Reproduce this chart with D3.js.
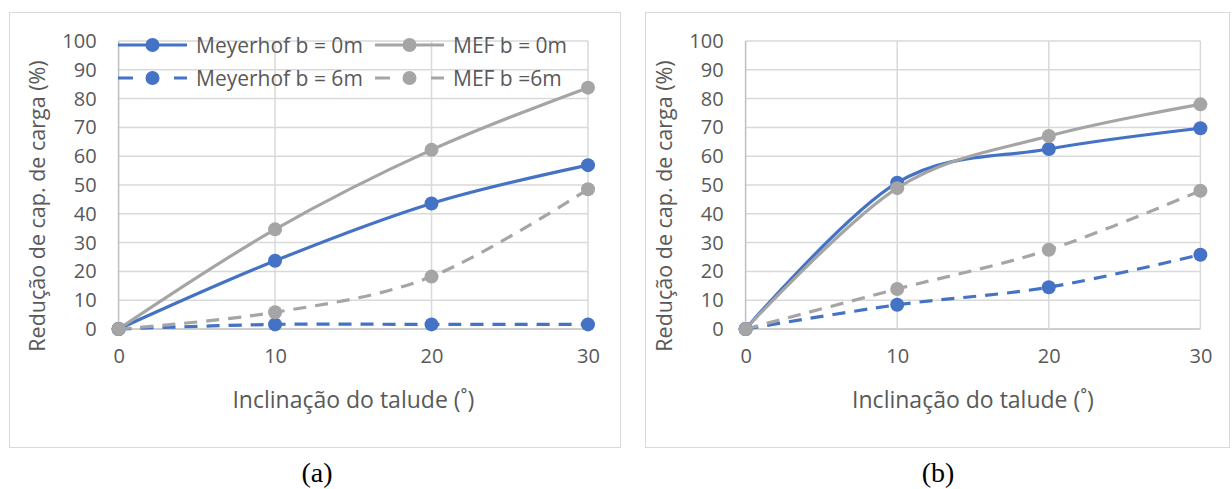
<!DOCTYPE html>
<html>
	<head>
		<meta charset="utf-8">
		<title>Redução de capacidade de carga</title>
		<script src="https://d3js.org/d3.v7.min.js" charset="utf-8"></script>
		<style>
			body {
				margin: 0;
				background: white;
				font-family: "Open Sans", sans-serif;
			}
			.tick text, .ttl {
				fill: #595959;
			}
		</style>
	</head>
	<body>
		<script>
		// data
		var angles = [0, 10, 20, 30];
		var yTicks = [0, 10, 20, 30, 40, 50, 60, 70, 80, 90, 100];
		var seriesNames = ["Meyerhof b = 0m", "MEF b = 0m", "Meyerhof b = 6m", "MEF b =6m"];

		// panel (a)
		var aMeyerhof0 = [0, 23.7, 43.6, 56.9];
		var aMef0 = [0, 34.6, 62.2, 83.8];
		var aMeyerhof6 = [0, 1.6, 1.6, 1.6];
		var aMef6 = [0, 5.8, 18.2, 48.5];

		// panel (b)
		var bMeyerhof0 = [0, 50.8, 62.5, 69.7];
		var bMef0 = [0, 48.9, 67.0, 78.0];
		var bMeyerhof6 = [0, 8.4, 14.5, 25.8];
		var bMef6 = [0, 13.9, 27.5, 48.0];

		var blue = "#4472C4";
		var gray = "#A5A5A5";
		var styles = [
			{color: blue, dash: null},
			{color: gray, dash: null},
			{color: blue, dash: "13,9"},
			{color: gray, dash: "13,9"}
		];

		var width = 1232;
		var height = 489;

		var svg = d3.select("body")
			.append("svg")
			.attr("width", width)
			.attr("height", height);

		var panels = [
			{label: "(a)", data: [aMeyerhof0, aMef0, aMeyerhof6, aMef6], box: [9, 12, 620, 447], x0: 118.6, x1: 588, legend: true, labelX: 317},
			{label: "(b)", data: [bMeyerhof0, bMef0, bMeyerhof6, bMef6], box: [645, 12, 1229, 447], x0: 745.6, x1: 1200.4, legend: false, labelX: 938}
		];

		var yTop = 41;
		var yBottom = 329;

		panels.forEach(function(p) {
			var g = svg.append("g");

			// chart area border
			g.append("rect")
				.attr("x", p.box[0] + 0.5)
				.attr("y", p.box[1] + 0.5)
				.attr("width", p.box[2] - p.box[0])
				.attr("height", p.box[3] - p.box[1])
				.attr("fill", "white")
				.attr("stroke", "#D9D9D9");

			var x = d3.scaleLinear().domain([0, 30]).range([p.x0, p.x1]);
			var y = d3.scaleLinear().domain([0, 100]).range([yBottom, yTop]);

			// gridlines
			g.append("g").selectAll("line")
				.data(yTicks)
				.enter()
				.append("line")
				.attr("x1", p.x0).attr("x2", p.x1)
				.attr("y1", function(d){ return y(d); })
				.attr("y2", function(d){ return y(d); })
				.attr("stroke", function(d){ return d == 0 ? "#BFBFBF" : "#D9D9D9"; })
				.attr("stroke-width", 1.5);

			g.append("g").selectAll("line")
				.data(angles)
				.enter()
				.append("line")
				.attr("x1", function(d){ return x(d); })
				.attr("x2", function(d){ return x(d); })
				.attr("y1", yTop).attr("y2", yBottom)
				.attr("stroke", function(d){ return d == 0 ? "#BFBFBF" : "#D9D9D9"; })
				.attr("stroke-width", 1.5);

			// axes (labels only)
			var yAxis = g.append("g")
				.attr("transform", "translate(" + p.x0 + ",0)")
				.call(d3.axisLeft(y).tickValues(yTicks).tickSize(0).tickPadding(22));
			var xAxis = g.append("g")
				.attr("transform", "translate(0," + yBottom + ")")
				.call(d3.axisBottom(x).tickValues(angles).tickSize(0).tickPadding(20));
			[yAxis, xAxis].forEach(function(ax) {
				ax.select(".domain").remove();
				ax.selectAll("text")
					.attr("font-family", "Open Sans")
					.attr("font-size", 20);
			});

			// axis titles
			g.append("text")
				.attr("class", "ttl")
				.attr("transform", "translate(" + (p.x0 - 74) + ",206) rotate(-90)")
				.attr("text-anchor", "middle")
				.attr("font-size", 21.5)
				.text("Redução de cap. de carga (%)");

			g.append("text")
				.attr("class", "ttl")
				.attr("x", (p.x0 + p.x1) / 2)
				.attr("y", 408)
				.attr("text-anchor", "middle")
				.attr("font-size", 23)
				.text("Inclinação do talude (˚)");

			// series
			var line = d3.line()
				.x(function(d, i){ return x(angles[i]); })
				.y(function(d){ return y(d); })
				.curve(d3.curveCardinal.tension(0));

			p.data.forEach(function(vals, k) {
				var s = styles[k];
				var sg = g.append("g");
				sg.append("path")
					.attr("d", line(vals))
					.attr("fill", "none")
					.attr("stroke", s.color)
					.attr("stroke-width", 3.2)
					.attr("stroke-dasharray", s.dash);
				sg.selectAll("circle")
					.data(vals)
					.enter()
					.append("circle")
					.attr("cx", function(d, i){ return x(angles[i]); })
					.attr("cy", function(d){ return y(d); })
					.attr("r", 7)
					.attr("fill", s.color);
			});

			// legend, two columns
			if (p.legend) {
				var cols = [118, 375];
				var rows = [45, 78];
				seriesNames.forEach(function(name, k) {
					var s = styles[k];
					var lx = cols[k % 2];
					var ly = rows[Math.floor(k / 2)];
					var lg = g.append("g");
					lg.append("line")
						.attr("x1", lx).attr("x2", lx + 69)
						.attr("y1", ly).attr("y2", ly)
						.attr("stroke", s.color)
						.attr("stroke-width", 3.2)
						.attr("stroke-dasharray", s.dash ? "15,41,13" : null);
					lg.append("circle")
						.attr("cx", lx + 34.5)
						.attr("cy", ly)
						.attr("r", 7)
						.attr("fill", s.color);
					lg.append("text")
						.attr("class", "ttl")
						.attr("x", lx + 78)
						.attr("y", ly)
						.attr("dy", "0.36em")
						.attr("font-size", 21)
						.text(name);
				});
			}

			// panel label
			svg.append("text")
				.attr("x", p.labelX)
				.attr("y", 482)
				.attr("text-anchor", "middle")
				.attr("font-family", "Liberation Serif")
				.attr("font-size", 28)
				.attr("fill", "black")
				.text(p.label);
		});
		</script>
	</body>
</html>
